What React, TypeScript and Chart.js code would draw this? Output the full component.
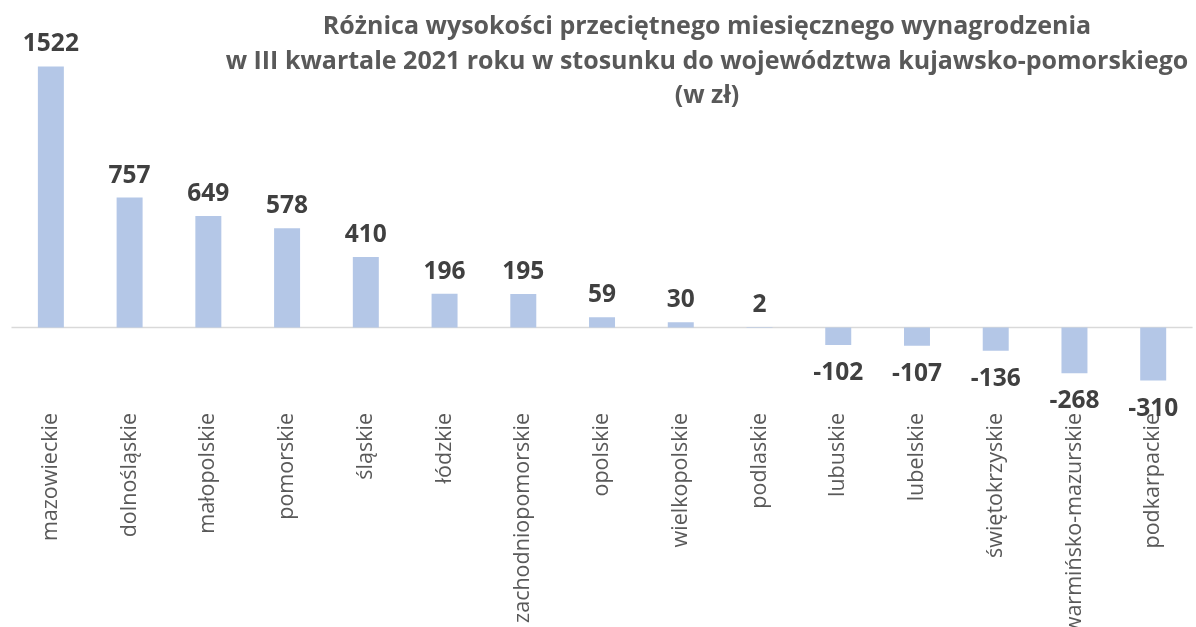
import React, { useEffect, useRef } from "react";
import { Chart, registerables } from "chart.js";

Chart.register(...registerables);

const categories = [
  "mazowieckie",
  "dolnośląskie",
  "małopolskie",
  "pomorskie",
  "śląskie",
  "łódzkie",
  "zachodniopomorskie",
  "opolskie",
  "wielkopolskie",
  "podlaskie",
  "lubuskie",
  "lubelskie",
  "świętokrzyskie",
  "warmińsko-mazurskie",
  "podkarpackie",
];

const differences = [1522, 757, 649, 578, 410, 196, 195, 59, 30, 2, -102, -107, -136, -268, -310];

const titleLines = [
  "Różnica wysokości przeciętnego miesięcznego wynagrodzenia",
  "w III kwartale 2021 roku w stosunku do województwa kujawsko-pomorskiego",
  "(w zł)",
];

const FONT = "'Open Sans', 'Noto Sans', sans-serif";

const titlePlugin = {
  id: "customTitle",
  afterDraw(chart: any) {
    const ctx = chart.ctx;
    ctx.save();
    ctx.font = `bold 25px ${FONT}`;
    ctx.fillStyle = "#595959";
    ctx.textAlign = "center";
    ctx.textBaseline = "alphabetic";
    const baselines = [34, 69, 103];
    titleLines.forEach((line, i) => ctx.fillText(line, 707, baselines[i]));
    ctx.restore();
  },
};

const zeroLinePlugin = {
  id: "zeroLine",
  beforeDatasetsDraw(chart: any) {
    const ctx = chart.ctx;
    const y = chart.scales.y.getPixelForValue(0);
    ctx.save();
    ctx.strokeStyle = "#d9d9d9";
    ctx.lineWidth = 1.5;
    ctx.beginPath();
    ctx.moveTo(chart.chartArea.left, y);
    ctx.lineTo(chart.chartArea.right, y);
    ctx.stroke();
    ctx.restore();
  },
};

const valueLabelPlugin = {
  id: "valueLabels",
  afterDatasetsDraw(chart: any) {
    const ctx = chart.ctx;
    const meta = chart.getDatasetMeta(0);
    const data = chart.data.datasets[0].data as number[];
    ctx.save();
    ctx.font = `bold 24.5px ${FONT}`;
    ctx.fillStyle = "#404040";
    ctx.textAlign = "center";
    ctx.textBaseline = "alphabetic";
    meta.data.forEach((bar: any, i: number) => {
      const v = data[i];
      const props = bar.getProps(["x", "y", "base"], true);
      if (v >= 0) {
        ctx.fillText(String(v), props.x, Math.min(props.y, props.base) - 15);
      } else {
        ctx.fillText(String(v), props.x, Math.max(props.y, props.base) + 35);
      }
    });
    ctx.restore();
  },
};

export default function App() {
  const canvasRef = useRef<HTMLCanvasElement | null>(null);

  useEffect(() => {
    document.body.style.margin = "0";
    document.body.style.overflow = "hidden";
    const canvas = canvasRef.current;
    if (!canvas) return;
    const chart = new Chart(canvas, {
      type: "bar",
      data: {
        labels: categories,
        datasets: [
          {
            data: differences,
            backgroundColor: "#b4c7e7",
            borderWidth: 0,
            categoryPercentage: 1,
            barPercentage: 0.33,
          },
        ],
      },
      options: {
        animation: false,
        responsive: true,
        maintainAspectRatio: false,
        layout: { padding: { top: 53, left: 11.5, right: 0, bottom: 0 } },
        plugins: {
          legend: { display: false },
          title: { display: false },
          tooltip: { enabled: false },
        },
        scales: {
          x: {
            grid: { display: false, drawTicks: false },
            border: { display: false },
            ticks: {
              autoSkip: false,
              minRotation: 90,
              maxRotation: 90,
              padding: 17,
              color: "#595959",
              font: { family: FONT, size: 21.5 },
            },
            afterFit(scale: any) {
              scale.height = 231;
            },
          },
          y: {
            display: false,
            min: -400,
            max: 1600,
          },
        },
      },
      plugins: [zeroLinePlugin, valueLabelPlugin, titlePlugin],
    });
    return () => chart.destroy();
  }, []);

  return (
    <div style={{ position: "relative", width: "1196px", height: "627px" }}>
      <canvas ref={canvasRef} />
    </div>
  );
}
